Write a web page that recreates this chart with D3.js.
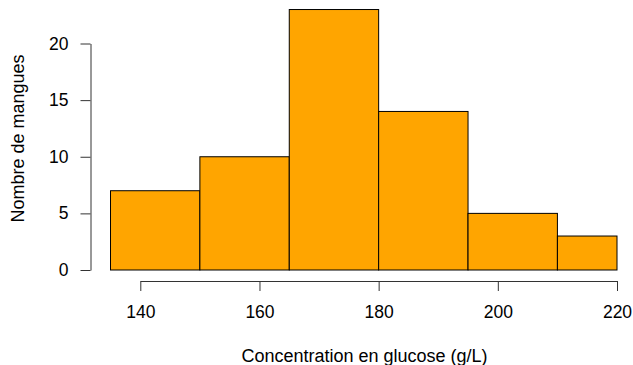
<!DOCTYPE html>
<html>
<head>
<meta charset="utf-8">
<script src="https://cdn.jsdelivr.net/npm/d3@7"></script>
<style>
  body { margin: 0; background: #fff; }
  svg text { font-family: "Liberation Sans", Arial, sans-serif; fill: #000; }
</style>
</head>
<body>
<div id="chart"></div>
<script>
// bin edges and counts of the histogram
const binEdges = [135, 150, 165, 180, 195, 210, 220];
const counts = [7, 10, 23, 14, 5, 3];
const xTicks = [140, 160, 180, 200, 220];
const yTicks = [0, 5, 10, 15, 20];
const xTitle = 'Concentration en glucose (g/L)';
const yTitle = 'Nombre de mangues';

const width = 633, height = 365;

const bins = counts.map((c, i) => ({ x0: binEdges[i], x1: binEdges[i + 1], n: c }));

const x = d3.scaleLinear().domain([140, 220]).range([140.3, 617]);
const y = d3.scaleLinear().domain([0, 20]).range([270, 43.5]);

const svg = d3.select('#chart')
  .append('svg')
  .attr('width', width)
  .attr('height', height);

// bars
svg.append('g')
  .selectAll('rect')
  .data(bins)
  .join('rect')
  .attr('x', d => x(d.x0))
  .attr('y', d => y(d.n))
  .attr('width', d => x(d.x1) - x(d.x0))
  .attr('height', d => y(0) - y(d.n))
  .attr('fill', '#FFA500')
  .attr('stroke', '#000')
  .attr('stroke-width', 1);

// x axis
const xAxis = svg.append('g')
  .attr('transform', 'translate(0,281)')
  .call(d3.axisBottom(x).tickValues(xTicks).tickSize(10).tickPadding(15).tickSizeOuter(0));
xAxis.select('.domain').attr('stroke', '#333');
xAxis.selectAll('.tick line').attr('stroke', '#333');
xAxis.selectAll('.tick text').attr('font-size', 17.5).attr('fill', '#000');

// y axis
const yAxis = svg.append('g')
  .attr('transform', 'translate(90.5,0)')
  .call(d3.axisLeft(y).tickValues(yTicks).tickSize(10).tickPadding(12).tickSizeOuter(0));
yAxis.select('.domain').attr('stroke', '#333');
yAxis.selectAll('.tick line').attr('stroke', '#333');
yAxis.selectAll('.tick text').attr('font-size', 17.5).attr('fill', '#000');

// axis titles
svg.append('text')
  .attr('x', 364.5)
  .attr('y', 362)
  .attr('text-anchor', 'middle')
  .attr('font-size', 18)
  .text(xTitle);

svg.append('text')
  .attr('transform', 'translate(24,138.5) rotate(-90)')
  .attr('text-anchor', 'middle')
  .attr('font-size', 18)
  .text(yTitle);
</script>
</body>
</html>
